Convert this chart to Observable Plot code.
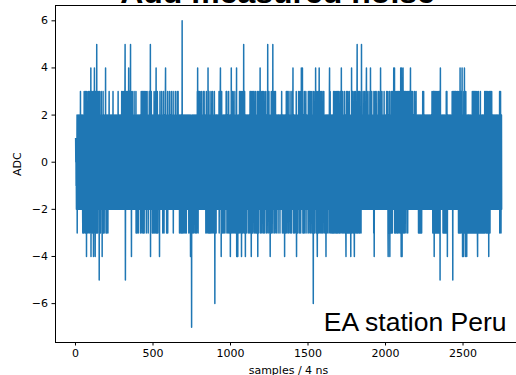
<!DOCTYPE html>
<html>
<head>
<meta charset="utf-8">
<script src="https://cdn.jsdelivr.net/npm/d3@7"></script>
<script src="https://cdn.jsdelivr.net/npm/@observablehq/plot@0.6"></script>
<style>
  html, body { margin: 0; padding: 0; background: white; overflow: hidden; }
</style>
</head>
<body>
<div id="chart"></div>
<script>
// ADC noise samples, one character per sample:
// digits 0..6 = 0..6, letters a..g = -1..-7. Each row = 50 samples, chunks of 10.
const adcRows = [
"1101a0b1a0 2c1b0a12b1 a0a2b01a12 b03a1b0a2a 1b01a2bc1b",
"02a1c03b1a 20bc13a2b0 1d23a0b1a2 c0b31a2b0c a13b20a2c4",
"d1a20b3a1c 02b1a3d0a2 b14a0c2d1a 3b0a2c15b1 a0c21b3a0b",
"2a1e03b1a2 0c1b2a30b1 a2d01b2a3c 1a0b2c0a12 b0a14b2c1a",
"0c2a1b0a2c 1b0a2b13a0 2b1a0b2a1b 0a1b20a1b2 a03b1a2b0a",
"1b2a0b1a20 b1a0a2b1a0 2b0a13b0a1 b2a1b0a2b0 1a2b0a1b3a",
"0b2a1b30a2 b1a3b0a2b3 5ae0b2a1b3 0a2b1a3b0a 2b14a0b2a3",
"0b2a15b0a3 ad2b0a3b1a 2b0a1b2a3b 0a2b1a0b2a 3c0a2b1c0a",
"2b1a0c2a1b 0a2b1a0b2c 1b0a3b2a0c 2a3b0a1c3b 0a2c1b3a0b",
"2a1b3a0c2b 1a3b0a2b1c 0a2b1a3b0a 2b05d1a2b3 a0b2a1c0a2",
"b1c0a2b3a0 c1a2b0a3c1 4b0a2c1a3b 0c2a1b0a2b 1ad0b3a2b1",
"0a2b1a3b0a 2b0c1a2b3a 1c0a2b1a0b 34a0b2a1c0 2a1b3c0a2b",
"1a0b2a3b1a 0b2a1b0a3b 2a1b0a2b1a 3c0a2b1a0b 2a1b3a0b2a",
"1b0a2b3a1b 0a3b1a2b0a 2c1a0b2a1c 0b2a1c0b6a 2c1b0a2b1c",
"0a2b1a0c2a 1b0a2c1a0b 2a1b0a2b1a 0c2a1b0a2c 1ad0a2b1ag",
"1b0a2c1a0b 2a1c0b2a1b 0a2c1a0b2a 1c0a2b3a4b 0c2a3b1a0b",
"2a3b0a1b2a 0b3a1b2a0b 1a2b3a0b2a 3b1a0b2a1b 0c2a3b1a0c",
"2a1b04a2c1 a3b0c2a1b0 2c1a3b0a2c 1a0b3a2c1a 0b2a1c3a0f",
"1a2b0a1c2a 0b2a1b0a2b 1a0b2a3c0a 2b1a34b0a2 d1a3b0a2c1",
"a0b2a1c0a2 b1a0c2a1b0 2a3b1a3c0a 1b2a0c1a3b 0a2c1b0a2d",
"1a2b04a1c0 a2b3a0c1a2 b0a3c1a2b0 1a2c0b3a14 d0a2b1ad0a",
"2b1c0a2b3a 0c1a2b3a0c 2d1a3b0a2c 1a3b05a2c0 a3b1c0d2a1",
"0b2a1c0a2b 1a0b2a1c0a 2b1a0c3a1b 0a3bd1a2c3 1a0b2c3a0b",
"2a3b1c0a2b 0a3c1b2a0c 1a2b3ad0b2 a1c3b0a2b1 a4b0c2a3b1",
"0a2c1a3b0a 2b1c3a0b2a 1c0a3b2a0b 2a1c0b3a2b 5a0c2b1a3b",
"0a2c1bd0a2 b1a3c0a2b1 a0b5c1a3b0 2a3b1c0a2b 3a0b1c2a0b",
"1a2b0a1c2a 0b2a1b0a2c 1a0b2a1b0a 3b1a0c2a1b 0a2c1b0a2d",
"1a0b2a1c0a 3b1a0c3a2b 0a3b1c2a0b 2a1b3c0a2b 1a0c2b3a1b",
"0a24b1c0a2 b1a0c2a1b0 2a1c3bd0a2 b1a0c2a1b3 0a2b1c0a3b",
"1a2c03a4b0 a3b14a2c0a 2b0c1a3b0a 1c2a0b3a1b 0a2c1b0a2b",
"1a3b0c2a1b 3a0b2c1a3b 0a2b1c3a0b 2a1bf0a3b1 a0c2b1a3b4",
"0a2c1b3a0c d1a2b3a0c2 a14b0a2c3b 1a0b2c3a0b 2a1c0b3a2b",
"0a3c1b2a0b 1c2a0bd1a2 b0a1c2a1b0 2a0b1c2a34 b1a3c0a2b1",
"a0c2b1a0c2 a1b0c3a2b1 c0a3b1a2c0 a3b1c0a2b3 0c1a2b0a3c",
"1a2b0c1a3b 0a2c14a0b2 a1c3b0a2b1 c0a2b3a1c0 a2b1cd0a3b",
"1a0c2b3a1c 0a2b1c3a0b 2c1a0bd2a1 b4a0c2a3b1 a0c2b1a3cd",
"0a2b1c3a0b 2a1c0b35a0 c2a1b3a0c2 b1a3c0a2b1 a0c3b5a2b0",
"1a2b0a3b1a 0b2a1b3a0b 2a1b0a34b1 a0b2a1b3a0 b2a1b0a2b3",
"1a04b0a2b1 a3b0a2b1a0 b2a1c3ad0a 2b1a3b0a2b 1a0b3a2b1a",
"0b2a1b3a0b 2a1b0a3b41 a0b2a1b3a0 b2a1b0a2b1 a3b0a2b1a0",
"b2a1b0a3b1 a0b2a3cd1a 2c0a1b3ad0 a2c1b0a3c1 b0a2c3a1b0",
"2a14b0a24c 1a3b0c2a3b 0a2c1b3a0c 2a3b1a0c3b 1a0b2c3a4b",
"0da4c1ad2a 3b14a0c2b3 a1c0b3a2b0 a3c1b2a0b3 1a2c0b3a1b",
"0a2b3a1b0a 24b1a0b3a2 b0a1b3a2b0 a2b1a0b3a1 b0a2b1a3b0",
"2a1b0a2b1a 0b2c1a0c2a 1c0a2b1c0a 2b1c0a2b1a 3b0a2b3a1b",
"0a2b1a0b2a 1b0a2b1a0b 2a1b0a2b1a 0b2a1b0a2b 1a0b2a1b0a",
"3b1a0c2a3b 0c3ad1a3c0 2a1c3b0a2c 1a3b0c2a1c 3a0c2b1a3c",
"0ae24a1b2a 1b0a2b1a0b 2c1a0c2a1c 0a2c1a0c2b 1a3c0a3b2d",
"0a2b1a0b2a 1b0a2b1a0b 2a1b0a2b1a 3b0ae2a3b1 a0b3a2b1a3",
"0b2a3b1a0b 2a3b1a0b3a 1c0a2b3c1a 04b1c0a3b2 a3c14a0db2",
"1ad0a3c2a4 b0c1ad2a3c 0a2cd1a2b0 c1a2b0c2a1 b0c2a1c0a2",
"c1a0b2c1a0 3b1c0a2c3a 0c2a3b1c0a 2c3a1b0c2a 3b1cd0a2c3",
"0a2c1b0a2c 1a3c0a2b1c 0a2b1c2a0c 1b2a0c1a2b 3c0a2b3a1c",
"0a3c1b2a0c 3a1b0ad2a3 b1a0c2a3b1 a0b2a3b1a0 b2a1b0a2b1",
"a0b2a1b0a2 b1a0b2a1b0 2a1b0a2b1a 0b2a1b3c0a 2b3a1c0a2b"
];
const codeValues = {"0":0,"1":1,"2":2,"3":3,"4":4,"5":5,"6":6,a:-1,b:-2,c:-3,d:-4,e:-5,f:-6,g:-7};

const xTicks = [0, 500, 1000, 1500, 2000, 2500];
const yTicks = [-6, -4, -2, 0, 2, 4, 6];
const xDomain = [-129, 2845];
const yDomain = [-7.65, 6.65];
const titleText = "Add measured noise";
const xLabel = "samples / 4 ns";
const yLabel = "ADC";
const noteText = "EA station Peru";

const samples = adcRows.flatMap((row, r) =>
  row.split(" ").flatMap((chunk, c) =>
    [...chunk].map((ch, j) => ({sample: r * 50 + c * 10 + j, adc: codeValues[ch]}))));

const fmt = d => String(d).replace("-", "\u2212");

const chart = Plot.plot({
  width: 516,
  height: 375,
  marginLeft: 55,
  marginRight: 0,
  marginTop: 5,
  marginBottom: 33,
  style: {fontFamily: "DejaVu Sans", fontSize: "11px", color: "black", background: "white", overflow: "visible"},
  x: {domain: xDomain},
  y: {domain: yDomain},
  marks: [
    Plot.line(samples, {x: "sample", y: "adc", stroke: "#1f77b4", strokeWidth: 1.5}),
    Plot.ruleX([xDomain[0]], {stroke: "black", strokeWidth: 1}),
    Plot.ruleY(yDomain, {stroke: "black", strokeWidth: 1}),
    Plot.axisX({ticks: xTicks, tickFormat: fmt, tickSize: 3.5, tickPadding: 3, label: null, fontSize: 11}),
    Plot.axisY({ticks: yTicks, tickFormat: fmt, tickSize: 3.5, tickPadding: 4, label: null, fontSize: 11}),
    Plot.text([titleText], {frameAnchor: "top", dx: -8.5, dy: -3, lineAnchor: "bottom",
      fontSize: 32, fontWeight: "bold", fontFamily: "Liberation Sans", fill: "black"}),
    Plot.text([noteText], {frameAnchor: "bottom-right", dx: -10, dy: -12, textAnchor: "end",
      lineAnchor: "bottom", fontSize: 26.5, fontFamily: "Liberation Sans", fill: "black"}),
    Plot.text([xLabel], {frameAnchor: "bottom", dx: 2.5, dy: 31, lineAnchor: "bottom",
      fontSize: 11, fill: "black"}),
    Plot.text([yLabel], {frameAnchor: "left", dx: -38, dy: 2, rotate: -90,
      fontSize: 11, fill: "black"})
  ]
});
document.getElementById("chart").appendChild(chart);
</script>
</body>
</html>
